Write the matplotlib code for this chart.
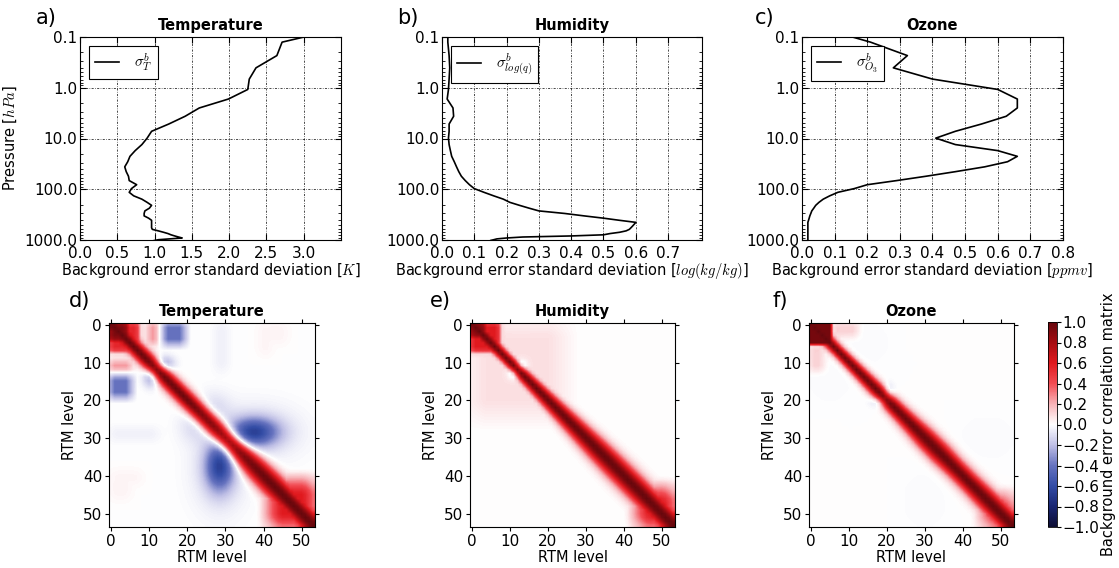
import numpy as np
import matplotlib
matplotlib.use("Agg")
import matplotlib.pyplot as plt
from matplotlib.colors import LinearSegmentedColormap
from matplotlib.ticker import FuncFormatter

plt.rcParams["font.family"] = ["DejaVu Sans"]
plt.rcParams["mathtext.fontset"] = "cm"
plt.rcParams["font.size"] = 10.5
plt.rcParams["xtick.labelsize"] = 11
plt.rcParams["ytick.labelsize"] = 11

# =========================
# data: std-dev profiles on RTM levels 4..52
# =========================
pressure = [0.0644, 0.1263, 0.2324, 0.4052, 0.6749, 1.0801, 1.6691, 2.5011, 3.6462,
            5.1864, 7.2150, 9.8368, 13.1672, 17.3308, 22.4601, 28.6937, 36.1735,
            45.0430, 55.4433, 67.5109, 81.3744, 97.1505, 114.9415, 134.8320, 156.8846,
            181.1394, 207.6092, 236.2784, 267.1012, 300.0, 334.8377, 371.4254, 409.5861,
            449.1477, 489.9177, 531.6873, 574.2314, 617.3143, 660.6919, 704.1131,
            747.3226, 790.0606, 832.0647, 873.0708, 912.8171, 951.0446, 987.4996,
            1022.08, 1054.64]

sigma_t = [3.56, 2.71, 2.64, 2.36, 2.27, 2.25, 1.99, 1.60, 1.41,
           1.19, 0.96, 0.90, 0.83, 0.74, 0.67, 0.64, 0.60,
           0.62, 0.65, 0.66, 0.76, 0.69, 0.66, 0.72, 0.83,
           0.90, 0.96, 0.93, 0.87, 0.86, 0.86, 0.92, 0.96,
           0.96, 0.96, 0.96, 0.96, 0.97, 1.05, 1.12,
           1.18, 1.22, 1.27, 1.32, 1.37, 1.20, 1.05,
           1.00, 0.95]

sigma_q = [0.018, 0.018, 0.022, 0.024, 0.022, 0.020, 0.016, 0.034, 0.036,
           0.022, 0.022, 0.020, 0.022, 0.026, 0.030, 0.038, 0.045,
           0.052, 0.060, 0.072, 0.085, 0.100, 0.130, 0.160, 0.190,
           0.210, 0.240, 0.270, 0.300, 0.380, 0.440, 0.500, 0.550,
           0.600, 0.595, 0.590, 0.585, 0.580, 0.570, 0.550,
           0.520, 0.500, 0.400, 0.250, 0.200, 0.170, 0.160,
           0.150, 0.150]

sigma_o3 = [0.05, 0.21, 0.323, 0.28, 0.40, 0.60, 0.66, 0.66, 0.626,
            0.55, 0.47, 0.41, 0.47, 0.60, 0.66, 0.63, 0.56,
            0.47, 0.38, 0.29, 0.20, 0.16, 0.11, 0.085, 0.065,
            0.052, 0.042, 0.036, 0.030, 0.027, 0.024, 0.022, 0.020,
            0.018, 0.018, 0.018, 0.018, 0.018, 0.018, 0.018,
            0.018, 0.018, 0.018, 0.018, 0.018, 0.018, 0.018,
            0.018, 0.018]

titles = ["Temperature", "Humidity", "Ozone"]
legend_labels = [r"$\sigma^b_T$", r"$\sigma^b_{log(q)}$", r"$\sigma^b_{O_3}$"]
units = [r"[$K$]", r"[$log(kg/kg)$]", r"[$ppmv$]"]
xmax = [3.5, 0.805, 0.8]
xtick_sets = [[0.0, 0.5, 1.0, 1.5, 2.0, 2.5, 3.0],
              [0.0, 0.1, 0.2, 0.3, 0.4, 0.5, 0.6, 0.7],
              [0.0, 0.1, 0.2, 0.3, 0.4, 0.5, 0.6, 0.7, 0.8]]
p_ticks = [0.1, 1.0, 10.0, 100.0, 1000.0]

# =========================
# data: correlation matrix features (54 RTM levels)
# band: correlation width (levels) along the diagonal
# boxes: (row0, row1, col0, col1, value, edge softness)
# blobs: (row, col, row spread, col spread, value)
# =========================
n_levels = 54

t_band_at = [0, 5, 10, 20, 30, 40, 50, 53]
t_band_w = [3.2, 1.9, 2.0, 2.1, 2.4, 3.0, 3.0, 3.0]
t_boxes = [(0, 7, 0, 7, 0.55, 1.5), (0, 4, 0, 4, 0.92, 1.2),
           (10, 12, 0, 5, 0.25, 2.5), (14, 19, 0, 5, -0.40, 3.0),
           (42, 53, 42, 53, 0.6, 6.0), (28, 30, 0, 12, -0.06, 4.0),
           (39, 42, 0, 8, 0.03, 4.0), (0, 5, 40, 46, 0.03, 4.0)]
t_blobs = [(14.0, 10.5, 1.8, 1.4, -0.3), (28.5, 37.5, 2.6, 4.5, -0.55),
           (28.5, 38.0, 5.0, 8.0, -0.12), (22.0, 27.0, 3.0, 3.0, -0.10),
           (53.0, 53.0, 2.5, 2.5, 0.85)]

q_band_at = [0, 8, 15, 25, 35, 45, 53]
q_band_w = [2.2, 1.3, 1.6, 2.2, 2.9, 3.0, 3.0]
q_boxes = [(0, 3, 0, 3, 0.92, 1.2), (0, 7, 0, 7, 0.6, 1.5),
           (0, 24, 0, 24, 0.08, 8.0), (44, 53, 44, 53, 0.6, 6.0)]
q_blobs = [(11.0, 13.0, 1.0, 1.0, -0.2), (53.0, 53.0, 2.5, 2.5, 0.85)]

o_band_at = [0, 6, 15, 25, 32, 40, 48, 53]
o_band_w = [2.0, 1.4, 1.7, 2.1, 2.8, 2.4, 2.8, 2.8]
o_boxes = [(0, 5, 0, 5, 0.95, 0.6), (6, 12, 0, 3, 0.12, 2.5),
           (46, 53, 46, 53, 0.55, 6.0), (10, 20, 0, 10, -0.015, 8.0),
           (25, 35, 40, 53, -0.015, 8.0)]
o_blobs = [(18.0, 20.5, 1.5, 1.0, -0.2), (53.0, 53.0, 2.5, 2.5, 0.85)]


def soft_step(lev, a, b, soft):
    return np.clip((lev - (a - 0.5)) / soft + 0.5, 0, 1) * np.clip(((b + 0.5) - lev) / soft + 0.5, 0, 1)


def corr_matrix(band_at, band_w, boxes, blobs):
    lev = np.arange(n_levels)
    w = np.interp(lev, band_at, band_w)
    d = lev[:, None] - lev[None, :]
    c = np.exp(-0.5 * d ** 2 / np.outer(w, w))
    pos = np.zeros_like(c)
    neg = np.zeros_like(c)
    parts = []
    for r0, r1, c0, c1, val, soft in boxes:
        parts.append(val * np.outer(soft_step(lev, r0, r1, soft), soft_step(lev, c0, c1, soft)))
    for ri, ci, sr, sc, val in blobs:
        parts.append(val * np.outer(np.exp(-0.5 * ((lev - ri) / sr) ** 2),
                                    np.exp(-0.5 * ((lev - ci) / sc) ** 2)))
    for p in parts:
        if p.sum() > 0:
            pos = np.maximum(pos, np.maximum(p, p.T))
        else:
            neg = neg + np.minimum(p, p.T)
    c = np.maximum(c, pos) + neg
    return np.clip(c, -1, 1)


matrices = [corr_matrix(t_band_at, t_band_w, t_boxes, t_blobs),
            corr_matrix(q_band_at, q_band_w, q_boxes, q_blobs),
            corr_matrix(o_band_at, o_band_w, o_boxes, o_blobs)]
profiles = [sigma_t, sigma_q, sigma_o3]

cmap = LinearSegmentedColormap.from_list("corr", [
    (0.0, (0.05, 0.05, 0.2)), (0.1, (0.1, 0.15, 0.45)), (0.2, (0.2, 0.3, 0.65)),
    (0.3, (0.4, 0.45, 0.75)), (0.4, (0.75, 0.75, 0.9)), (0.5, (1, 1, 1)),
    (0.6, (0.97, 0.7, 0.72)), (0.7, (0.95, 0.3, 0.33)), (0.8, (0.88, 0.1, 0.12)),
    (0.9, (0.65, 0.05, 0.07)), (1.0, (0.4, 0.03, 0.05))])

# =========================
# figure
# =========================
W, H = 1119, 568
fig = plt.figure(figsize=(W / 100, H / 100), dpi=100)


def px_axes(x0, y0, x1, y1):
    return fig.add_axes([x0 / W, 1 - y1 / H, (x1 - x0) / W, (y1 - y0) / H])


top_boxes = [(80, 37, 341, 240), (442, 37, 702, 240), (802, 37, 1063, 240)]
bot_boxes = [(109, 323, 315, 527), (470, 323, 675, 527), (809, 323, 1014, 527)]
top_letters = [("a)", 36), ("b)", 397), ("c)", 755)]
bot_letters = [("d)", 69), ("e)", 430), ("f)", 772)]
minus = FuncFormatter(lambda v, pos: f"{v:.1f}".replace("-", "\u2212"))

for k in range(3):
    ax = px_axes(*top_boxes[k])
    ax.plot(profiles[k], pressure, color="k", lw=1.2, label=legend_labels[k])
    ax.set_yscale("log")
    ax.set_ylim(1000, 0.1)
    ax.set_xlim(0, xmax[k])
    ax.set_yticks(p_ticks)
    ax.set_yticklabels([f"{p:.1f}" for p in p_ticks])
    ax.set_xticks(xtick_sets[k])
    ax.xaxis.set_major_formatter(minus)
    ax.tick_params(which="both", direction="in", top=True, right=True)
    ax.tick_params(axis="y", pad=2)
    ax.tick_params(axis="x", pad=4.5)
    ax.tick_params(which="major", length=4)
    ax.tick_params(which="minor", length=2)
    ax.grid(True, which="major", color="k", linestyle=(0, (3, 2, 1, 2)), linewidth=0.5)
    ax.set_title(titles[k], fontweight="bold", fontsize=10.5, pad=5)
    ax.set_xlabel("Background error standard deviation " + units[k], labelpad=0)
    if k == 0:
        ax.set_ylabel(r"Pressure [$hPa$]")
    leg = ax.legend(loc="upper left", fancybox=False, fontsize=11, handlelength=1.6,
                    handletextpad=1.0, borderpad=0.35, borderaxespad=0.6, framealpha=1)
    leg.get_frame().set_edgecolor("k")
    leg.get_frame().set_linewidth(0.8)
    fig.text(top_letters[k][1] / W, 1 - 18 / H, top_letters[k][0], fontsize=15, va="center")

for k in range(3):
    ax = px_axes(*bot_boxes[k])
    im = ax.imshow(matrices[k], cmap=cmap, vmin=-1, vmax=1, interpolation="bilinear",
                   extent=(-0.5, n_levels - 0.5, n_levels - 0.5, -0.5), aspect="auto")
    ax.set_xticks(range(0, 51, 10))
    ax.set_yticks(range(0, 51, 10))
    ax.tick_params(direction="out", top=True, right=True, length=3, pad=2)
    ax.set_xlabel("RTM level", labelpad=1)
    ax.set_ylabel("RTM level")
    ax.set_title(titles[k], fontweight="bold", fontsize=10.5, pad=5)
    fig.text(bot_letters[k][1] / W, 1 - 301 / H, bot_letters[k][0], fontsize=15, va="center")

cax = px_axes(1048, 322, 1057, 527)
cb = fig.colorbar(im, cax=cax, ticks=np.round(np.linspace(-1, 1, 11), 1))
cb.ax.yaxis.set_major_formatter(minus)
cb.ax.tick_params(pad=1, length=3)
cb.outline.set_linewidth(0.6)
cb.set_label("Background error correlation matrix", labelpad=1)

fig.savefig("out.png", dpi=100)
